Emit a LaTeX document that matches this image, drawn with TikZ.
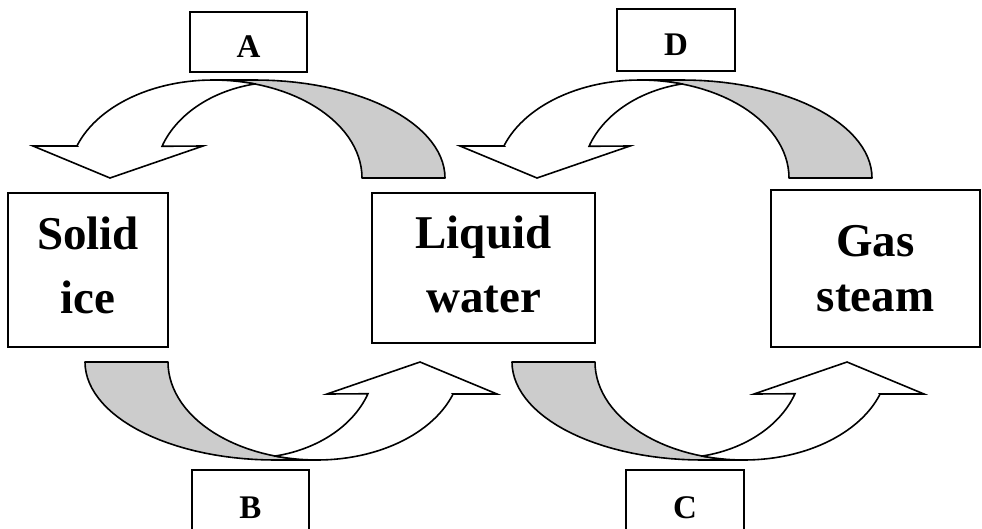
\documentclass[tikz,border=0pt]{standalone}
\usepackage{fontspec}
\setmainfont{Liberation Serif}
\usepackage{tikz}
\definecolor{BandGray}{HTML}{CCCCCC}
\tikzset{
  phase/.style={draw,line width=1.6pt,align=center,inner sep=0pt,
    font=\fontsize{47}{64}\selectfont\bfseries},
  tag/.style={draw,line width=1.6pt,minimum width=117pt,minimum height=60pt,
    text height=31pt,text depth=0pt,font=\fontsize{33}{38}\selectfont\bfseries},
  band/.style={draw,line width=1.6pt,line join=round,fill=BandGray},
  body/.style={draw,line width=1.6pt,line join=miter,fill=white},
  phasearrow/.pic={
    % back of the ribbon
    \path[band] (445,178) -- plot[domain=0:90,samples=30] ({255+190*cos(\x)},{178-98*sin(\x)})
      -- (213,80) -- plot[domain=90:0,samples=30] ({213+149*cos(\x)},{178-98*sin(\x)}) -- cycle;
    % front with the head
    \path[body] (77,146) -- plot[domain=160.9:90,samples=30] ({213+144*cos(\x)},{178-98*sin(\x)})
      -- plot[domain=90:73.6,samples=8] ({213+149*cos(\x)},{178-98*sin(\x)})
      -- plot[domain=101.5:160.7,samples=30] ({280+125*cos(\x)},{178-96*sin(\x)})
      -- (203,146) -- (110,178) -- (33,146) -- cycle;
  }
}
\begin{document}
\begin{tikzpicture}[x=1pt,y=-1pt]
  \useasboundingbox (0,0) rectangle (982,528);
  \clip (0,0) rectangle (982,528);
  % phases
  \node[phase,minimum width=160pt,minimum height=154pt,text depth=9pt] (solid) at (88,270) {Solid\\ice};
  \node[phase,minimum width=223pt,minimum height=150pt,text depth=7pt] (liquid) at (483.5,268) {Liquid\\water};
  \node[phase,minimum width=209pt,minimum height=157pt] (gas) at (875.5,268.5) {Gas\\[-9pt]steam};
  % changes of state
  \pic at (0,0) {phasearrow};
  \pic at (427,0) {phasearrow};
  \pic[rotate=180] at (530,540) {phasearrow};
  \pic[rotate=180] at (957,540) {phasearrow};
  \node[tag] (tagA) at (248.5,42) {A};
  \node[tag,minimum width=118pt,minimum height=62pt] (tagD) at (676,40) {D};
  \node[tag,minimum height=66pt] (tagB) at (250.5,503) {B};
  \node[tag,minimum width=118pt,minimum height=66pt] (tagC) at (685,503) {C};
\end{tikzpicture}
\end{document}
